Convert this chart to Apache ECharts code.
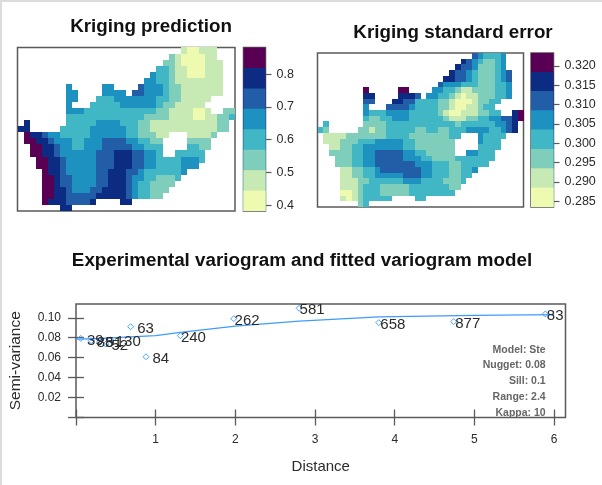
<!DOCTYPE html>
<html><head><meta charset="utf-8">
<style>html,body{margin:0;padding:0;background:#fff}
#edge{position:absolute;left:0;top:0;width:602px;height:485px;box-sizing:border-box;border-left:2px solid #dcdcdc;border-top:2px solid #dcdcdc}
#chart{position:absolute;left:0;top:0;width:602px;height:485px}</style>
<script src="https://cdn.jsdelivr.net/npm/echarts@6/dist/echarts.min.js"></script>
</head><body><div id="edge"></div><div id="chart"></div>
<script>
// ---- data ----
const bandColors = ['#edfab0','#c7e9b4','#7fcdbb','#41b6c4','#1d91c0','#225ea8','#0c2c84','#5a0054'];
const predictionBreaks = [0.382,0.4445,0.507,0.5695,0.632,0.6945,0.757,0.8195,0.882];
const errorBreaks = [0.2835,0.2885,0.2935,0.2985,0.3035,0.3085,0.3135,0.3184,0.3233];
const predictionTicks = [0.4,0.5,0.6,0.7,0.8];
const errorTicks = [0.285,0.29,0.295,0.3,0.305,0.31,0.315,0.32];
// each row lists column-range:band runs, top row first
const predictionRows = [
 '27:1 28-29:0 30-32:1',
 '25:2 26:1 27-30:0 31-32:1',
 '24-25:2 26:1 27-30:0 31-33:1',
 '23-24:3 25:2 26-27:1 28-30:0 31-33:1',
 '22:4 23-24:3 25:2 26-27:1 28-30:0 31-33:1',
 '21-22:4 23-24:3 25:2 26-33:1',
 '8:4 14-15:4 20:5 21-23:4 24:3 25-26:2 27-33:1',
 '8-9:4 14-17:4 19-20:5 21-23:4 24:3 25-26:2 27-33:1',
 '8-9:4 13-15:3 16-22:4 23-24:3 25-26:2 27-31:1',
 '8:4 12-16:3 17-22:4 23:3 24-25:2 26-30:1',
 '8-10:4 11-22:3 23-24:2 25-28:1 29-30:0 31:1 34-35:2',
 '8-20:3 21-24:2 25-28:1 29-30:0 31-32:1 33-34:2 35:3',
 '1:6 8-12:3 13-16:4 17-19:3 20-21:2 22-32:1 33-34:2',
 '0-1:6 7-11:3 12-17:4 18-19:3 20-21:2 22-32:1 33-34:2',
 '1:7 2-3:6 4:5 5-6:4 7-11:3 12-17:4 18-19:3 20-22:2 23-24:1 28-31:1 32:2',
 '1-2:7 3-4:6 5:5 6-8:4 9-10:3 11-13:4 14-17:5 18-19:4 20-21:3 22-23:2 28-31:2',
 '2-3:7 4-5:6 6:5 7-8:4 9-10:3 11-13:4 14-18:5 19-20:4 21-23:3 28-29:3 30-31:2',
 '2-3:7 4-5:6 6:5 7-12:4 13-15:5 16-18:6 19-20:5 21-22:4 23:3 26-30:3',
 '3-4:7 5-6:6 7:5 8-12:4 13-15:5 16-18:6 19-20:5 21-22:4 23-26:3 27-29:4 30:3',
 '3-4:7 5-6:6 7:5 8-12:4 13-15:5 16-18:6 19-20:5 21-22:4 23-26:3 27-29:4',
 '4:7 5-6:6 7:5 8-12:4 13-14:5 15-17:6 18-19:5 20:4 21-26:3 27:4',
 '4-5:7 6:6 7-8:5 9-12:4 13-14:5 15-17:6 18:5 19-20:4 21-22:3 23-25:2 26:3',
 '4-5:7 6:6 7-8:5 9-12:4 13-14:5 15-17:6 18:5 19:4 20-21:3 22-25:2',
 '4-5:7 6-7:6 8:5 9-11:4 12-13:5 14-17:6 18:5 19:4 20-21:3 22-24:2',
 '4-5:7 6-7:6 8-12:5 13-17:6 18:5 19:4 20-21:3 22-23:2',
 '4:7 5-7:6 8-11:5 12:6 17-18:6',
 '7-8:6'
];
const errorRows = [
 '27:5 28:4 29-31:3 32:4',
 '25:6 26:5 27:4 28:3 29-30:2 31:3 32:4',
 '24:6 25-26:5 27:4 28-30:2 31:3 32:4',
 '23:6 24-25:5 26:4 27:3 28-30:2 31:3 32:4 33:5',
 '22-23:6 24-25:5 26:4 27:3 28-30:2 31:3 32:4 33:5',
 '21:5 22-24:4 25-27:3 28-30:2 31-32:3 33:4',
 '8:7 14-15:7 20-21:4 22-23:3 24:2 25-26:1 27-30:2 31-32:3 33:4',
 '8-9:6 14-16:6 17:5 19-20:4 21-22:3 23:2 24:1 25:0 26-27:1 28-30:2 31-32:3 33:4',
 '8-9:5 13-14:6 15-16:5 17-20:3 21-22:2 23:1 24-26:0 27:1 28-29:2 30-31:3',
 '8:4 12-15:5 16:4 17-20:3 21-22:2 23:1 24-25:0 26-27:1 28:2 29-30:3',
 '8:4 9-11:3 12-15:4 16-20:3 21:2 22:1 23-24:0 25-27:1 28-29:2 30-31:3 34:6 35:7',
 '8:3 9-10:2 11-12:3 13-15:4 16-21:3 22:2 23-25:1 26-27:2 28-29:3 30-31:4 32-33:5 34:6 35:7',
 '1:3 8-11:2 12-23:3 24:2 25-30:3 31-32:4 33:5 34:6',
 '0:3 1:2 7-8:2 9:1 10-11:2 12-16:3 17-18:2 19-20:3 21-22:2 23-25:3 26-29:4 30-31:3 32:4 33:5 34:6',
 '1-4:1 5-11:2 12-15:3 16-22:2 23-24:3 28:4 29-32:3',
 '1-3:1 4-6:2 7-9:3 10-14:4 15-16:3 17-23:2 28:4 29-31:3',
 '2-3:1 4-5:2 6-7:3 8-14:4 15-16:3 17-23:2 28-31:3',
 '2-5:2 6-7:3 8-9:4 10-14:5 15-16:4 17-18:3 19-23:2 26-27:4 28-30:3',
 '3-5:2 6-7:3 8-9:4 10-14:5 15-17:4 18-19:3 20-23:2 24-30:3',
 '3-5:2 6-7:3 8-9:4 10-16:5 17-19:4 20-22:3 23-24:2 25-29:3',
 '4-5:1 6-7:2 8-9:3 10:4 11-17:5 18-19:4 20-22:3 23-24:2 25-26:3 27:4',
 '4-5:1 6-7:2 8-9:3 10-14:4 15-17:5 18-19:4 20-22:3 23-24:2 25-26:3',
 '4-6:1 7-8:2 9-14:3 15-17:4 18-21:3 22-24:2 25:3',
 '4-6:1 7:2 8-10:3 11-15:2 16-22:3 23-24:2',
 '4-5:0 6:1 7:2 8-10:3 11-15:2 16-23:3',
 '4:1 5:0 6:1 7:2 8-12:3 17-18:3',
 '7:2 8:3'
];
const pairDistance = [0.06,0.19,0.30,0.375,0.43,0.686,0.878,1.31,1.98,2.80,3.80,4.74,5.89];
const pairGamma = [0.0793,0.077,0.0765,0.0735,0.078,0.091,0.0609,0.082,0.0991,0.1095,0.0951,0.0961,0.1038];
const pairCount = ['39','88','51','52','130','63','84','240','262','581','658','877','83'];
const modelDistance = [0,0.3,0.5,1,1.31,2,2.8,3.8,5,6];
const modelGamma = [0.0785,0.0792,0.08,0.082,0.0853,0.0917,0.0967,0.1008,0.1024,0.1031];
const distanceTicks = [0,1,2,3,4,5,6];
const gammaTicks = [0,0.02,0.04,0.06,0.08,0.10];
const modelNotes = ['Model: Ste','Nugget: 0.08','Sill: 0.1','Range: 2.4','Kappa: 10'];

// ---- build ----
const FONT = '"Liberation Sans", Arial, sans-serif';
const FRAME = '#5a5a5a', INK = '#2b2b2b';
const labelGapByCount = {'39':5.7,'88':5,'51':5,'52':5,'130':5,'63':6,'84':6,'240':0,'262':0.3,'581':0,'658':1,'877':1,'83':1};
const COLS = Array.from({length:36},(_,i)=>i), ROWS = Array.from({length:27},(_,i)=>i);
function cells(rows, breaks){
  const out = [];
  rows.forEach((row,r)=>row.split(' ').forEach(run=>{
    const [span,band] = run.split(':');
    const [a,b] = span.split('-').map(Number);
    const mid = (breaks[+band]+breaks[+band+1])/2;
    for(let c=a;c<=(b===undefined?a:b);c++) out.push([c,r,mid]);
  }));
  return out;
}
const cellRenderer = breaks => (params,api)=>{
  const c = api.coord([api.value(0),api.value(1)]), s = api.size([1,1]), v = api.value(2);
  let band = 0; while(band<7 && v>breaks[band+1]) band++;
  const x0 = Math.round(c[0]-s[0]/2), x1 = Math.round(c[0]+s[0]/2);
  const y0 = Math.round(c[1]-s[1]/2), y1 = Math.round(c[1]+s[1]/2);
  return {type:'rect',shape:{x:x0,y:y0,width:x1-x0,height:y1-y0},style:{fill:bandColors[band]}};
};
const rect = (left,top,width,height)=>({left,top,width,height,show:true,backgroundColor:'#fff',borderColor:FRAME,borderWidth:1.5});
const hiddenCat = (gridIndex,data,extra)=>Object.assign({type:'category',gridIndex,data,show:false,boundaryGap:true},extra||{});
const grids = [
  rect(17.5,47.5,217.5,163.5),
  rect(243.5,47.5,22,163.5),
  rect(317.5,53,206,154),
  rect(531,53,22.5,154),
  rect(76,304,489.5,113.5)
];
const xAxes = [
  hiddenCat(0,COLS), hiddenCat(1,['c']), hiddenCat(2,COLS), hiddenCat(3,['c']),
  {type:'value',gridIndex:4,min:0,max:6.143,position:'bottom',splitLine:{show:false},axisLine:{show:false},
   axisTick:{show:true,length:8,customValues:distanceTicks,lineStyle:{color:FRAME,width:1.3}},
   axisLabel:{customValues:distanceTicks.slice(1),formatter:v=>String(v),fontFamily:FONT,fontSize:12,color:INK,margin:16},
   name:'Distance',nameLocation:'middle',nameGap:42,nameTextStyle:{fontFamily:FONT,fontSize:15,color:INK}},
  {type:'value',gridIndex:4,min:0,max:6.143,position:'top',splitLine:{show:false},axisLine:{show:false},
   axisTick:{show:true,length:8,customValues:distanceTicks,lineStyle:{color:FRAME,width:1.3}},axisLabel:{show:false}}
];
const barAxis = (gridIndex,br,ticks,digits)=>({type:'value',gridIndex,min:br[0],max:br[8],position:'right',
  splitLine:{show:false},axisLine:{show:false},
  axisTick:{show:true,length:6,customValues:ticks,lineStyle:{color:FRAME,width:1.2}},
  axisLabel:{customValues:ticks,formatter:v=>v.toFixed(digits),fontFamily:FONT,fontSize:12.5,color:INK,margin:11}});
const yAxes = [
  hiddenCat(0,ROWS,{inverse:true}),
  barAxis(1,predictionBreaks,predictionTicks,1),
  hiddenCat(2,ROWS,{inverse:true}),
  barAxis(3,errorBreaks,errorTicks,3),
  {type:'value',gridIndex:4,min:0,max:0.1138,position:'left',splitLine:{show:false},axisLine:{show:false},
   axisTick:{show:true,length:8,customValues:gammaTicks,lineStyle:{color:FRAME,width:1.3}},
   axisLabel:{customValues:gammaTicks.slice(1),formatter:v=>v.toFixed(2),fontFamily:FONT,fontSize:12,color:INK,margin:15},
   name:'Semi-variance',nameLocation:'middle',nameGap:52,nameTextStyle:{fontFamily:FONT,fontSize:15.5,color:INK}},
  {type:'value',gridIndex:4,min:0,max:0.1138,position:'right',splitLine:{show:false},axisLine:{show:false},
   axisTick:{show:true,length:8,customValues:gammaTicks,lineStyle:{color:FRAME,width:1.3}},axisLabel:{show:false}}
];
const barStack = (ax,br)=>bandColors.map((color,i)=>({i,color})).reverse().map(({i,color})=>({
  type:'bar',xAxisIndex:ax,yAxisIndex:ax,data:[br[i+1]],barWidth:'100%',barGap:'-100%',silent:true,
  itemStyle:{color},animation:false}));
const series = [
  {type:'custom',xAxisIndex:0,yAxisIndex:0,data:cells(predictionRows,predictionBreaks),renderItem:cellRenderer(predictionBreaks),animation:false},
  {type:'custom',xAxisIndex:2,yAxisIndex:2,data:cells(errorRows,errorBreaks),renderItem:cellRenderer(errorBreaks),animation:false},
  ...barStack(1,predictionBreaks),
  ...barStack(3,errorBreaks),
  {type:'line',xAxisIndex:4,yAxisIndex:4,data:modelDistance.map((d,i)=>[d,modelGamma[i]]),showSymbol:false,
   smooth:false,lineStyle:{color:'#3f9cff',width:1.3},animation:false,z:3},
  {type:'scatter',xAxisIndex:4,yAxisIndex:4,
   data:pairDistance.map((d,i)=>({value:[d,pairGamma[i],pairCount[i]],
     label:{offset:[labelGapByCount[pairCount[i]]-3,2]}})),
   symbol:'diamond',symbolSize:6,itemStyle:{color:'rgba(255,255,255,0)',borderColor:'#4aa3ff',borderWidth:1,opacity:1},
   label:{show:true,position:'right',distance:0,formatter:p=>p.value[2],fontFamily:FONT,fontSize:15,color:INK},
   animation:false,z:4}
];
const titleAt = (text,cx,top)=>({text,left:cx,top,padding:0,textAlign:'center',textStyle:{fontFamily:FONT,fontSize:18.8,fontWeight:'bold',color:'#111'}});
const noteY = [349.3,365,381,396.7,412.7];
const chart = echarts.init(document.getElementById('chart'),null,{renderer:'canvas'});
chart.setOption({
  backgroundColor:'transparent',animation:false,
  title:[titleAt('Kriging prediction',151,17),titleAt('Kriging standard error',453,23),titleAt('Experimental variogram and fitted variogram model',302,251)],
  grid:grids,xAxis:xAxes,yAxis:yAxes,
  series,
  graphic:modelNotes.map((t,i)=>({type:'text',right:602-545.7,top:noteY[i]-5,z:10,
    style:{text:t,font:'bold 10.5px '+FONT,fill:'#666'}}))
});
</script></body></html>
